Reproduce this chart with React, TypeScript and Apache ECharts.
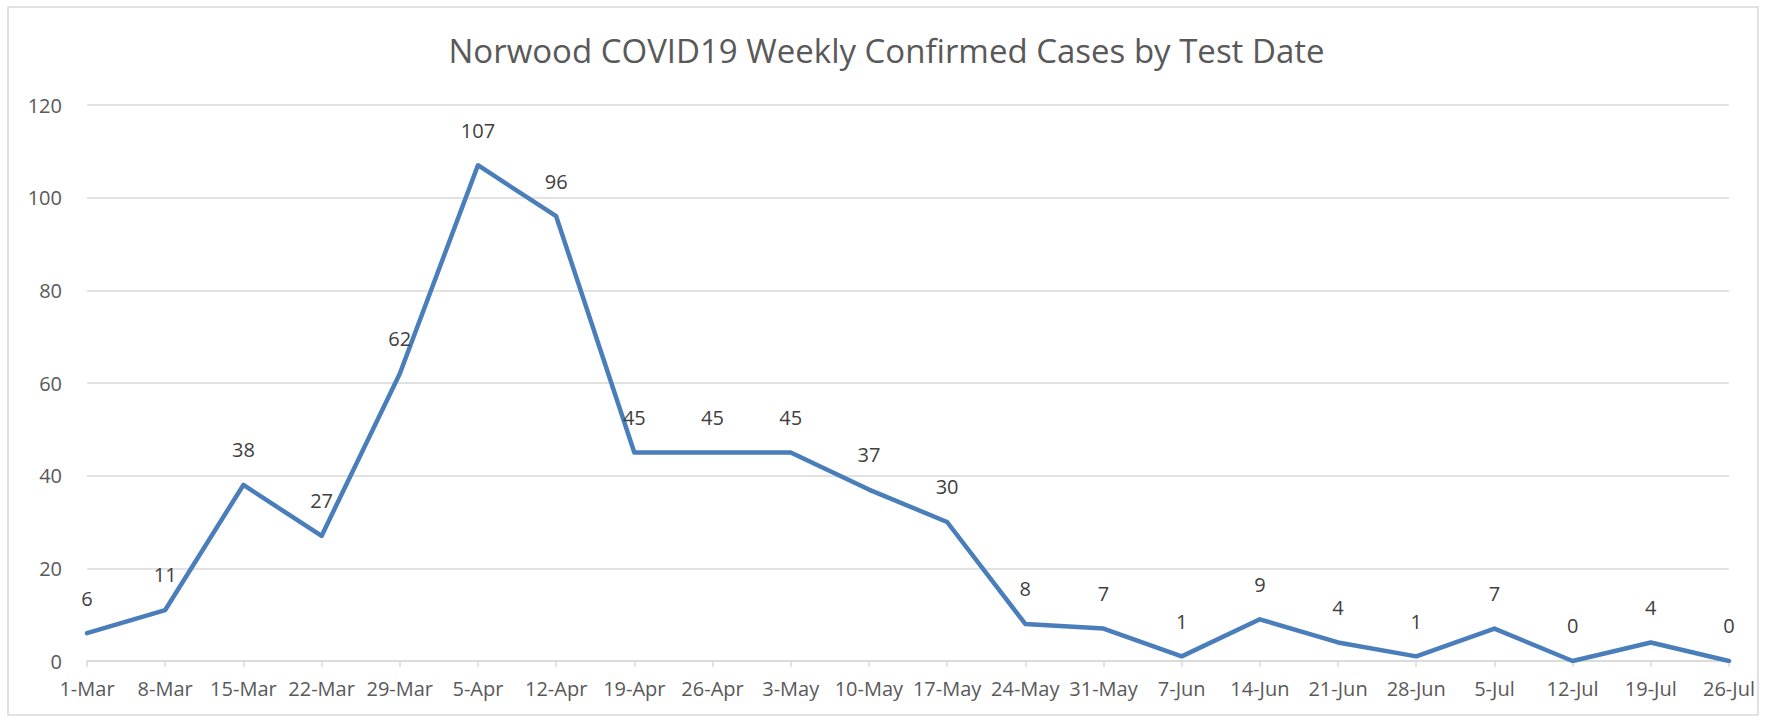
import React, { useEffect, useRef } from "react";
import * as echarts from "echarts";

const categories = [
  "1-Mar", "8-Mar", "15-Mar", "22-Mar", "29-Mar", "5-Apr", "12-Apr", "19-Apr",
  "26-Apr", "3-May", "10-May", "17-May", "24-May", "31-May", "7-Jun", "14-Jun",
  "21-Jun", "28-Jun", "5-Jul", "12-Jul", "19-Jul", "26-Jul",
];
const cases = [6, 11, 38, 27, 62, 107, 96, 45, 45, 45, 37, 30, 8, 7, 1, 9, 4, 1, 7, 0, 4, 0];
const titleText = "Norwood COVID19 Weekly Confirmed Cases by Test Date";
const yMin = 0;
const yMax = 120;
const yInterval = 20;

export default function App() {
  const ref = useRef<HTMLDivElement>(null);
  useEffect(() => {
    if (!ref.current) return;
    const chart = echarts.init(ref.current, undefined, { renderer: "svg" });
    const font = "'Open Sans', 'Noto Sans', sans-serif";
    chart.setOption({
      animation: false,
      backgroundColor: "#ffffff",
      title: {
        text: titleText,
        left: "center",
        top: 29,
        textStyle: { fontFamily: font, fontSize: 33, fontWeight: "normal", color: "#595959" },
      },
      graphic: [
        {
          type: "rect",
          shape: { x: 8, y: 7, width: 1750, height: 708 },
          style: { fill: "none", stroke: "#D9D9D9", lineWidth: 1.5 },
          silent: true,
        },
      ],
      grid: { left: 87, right: 44, top: 105, bottom: 60, containLabel: false },
      xAxis: {
        type: "category",
        data: categories,
        boundaryGap: false,
        axisLine: { show: true, lineStyle: { color: "#D9D9D9", width: 1.5 } },
        axisTick: { show: true, length: 6, lineStyle: { color: "#D9D9D9", width: 1.5 } },
        axisLabel: { fontFamily: font, fontSize: 20, color: "#595959", margin: 17, interval: 0 },
        splitLine: { show: false },
      },
      yAxis: {
        type: "value",
        min: yMin,
        max: yMax,
        interval: yInterval,
        axisLine: { show: false },
        axisTick: { show: false },
        axisLabel: { fontFamily: font, fontSize: 20, color: "#595959", margin: 25 },
        splitLine: { show: true, lineStyle: { color: "#D9D9D9", width: 1.5 } },
      },
      series: [
        {
          type: "line",
          data: cases,
          symbol: "circle",
          symbolSize: 0.1,
          showSymbol: true,
          lineStyle: { color: "#4A7EBB", width: 4.5, cap: "round", join: "round" },
          itemStyle: { color: "#4A7EBB" },
          label: {
            show: true,
            position: "top",
            distance: 25,
            fontFamily: font,
            fontSize: 20,
            color: "#404040",
          },
        },
      ],
    });
    return () => chart.dispose();
  }, []);
  return (
    <div
      ref={ref}
      style={{ position: "fixed", left: 0, top: 0, width: 1773, height: 721 }}
    />
  );
}
